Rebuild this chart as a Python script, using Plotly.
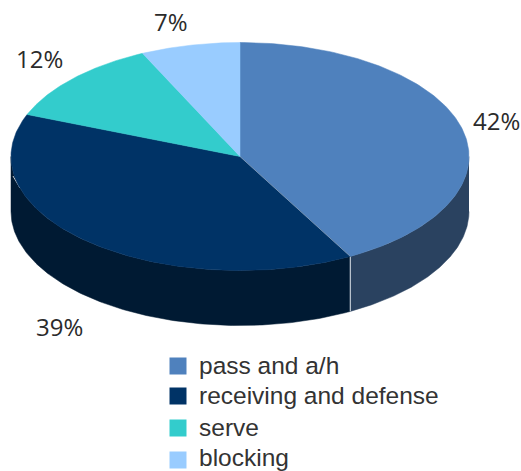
import numpy as np
import plotly.graph_objects as go

categories = ["pass and a/h", "receiving and defense", "serve", "blocking"]
shares = [42, 39, 12, 7]
top_colors = ["#4F81BD", "#003366", "#33CCCC", "#99CCFF"]
side_colors = ["#2A4260", "#001A33", "#1F7A7A", "#5C7A99"]

W, H = 521, 471
CX, CY, RX = 240.0, 156.5, 229.0
TILT = 114.0 / RX
DEPTH = 55.0 / RX

edges = np.cumsum([0] + shares) / sum(shares) * 2 * np.pi


def arc(a0, a1, n=160):
    t = np.linspace(a0, a1, n)
    return np.sin(t), np.cos(t) * TILT


def to_x(px):
    return (px - CX) / RX


def to_y(py):
    return (CY - py) / RX


fig = go.Figure()

# side walls (only the front half of the disc is visible)
for i in range(len(shares)):
    a0, a1 = max(edges[i], np.pi / 2), min(edges[i + 1], 3 * np.pi / 2)
    if a1 <= a0:
        continue
    x, y = arc(a0, a1)
    fig.add_trace(go.Scatter(
        x=np.r_[x, x[::-1]], y=np.r_[y, y[::-1] - DEPTH],
        mode="lines", fill="toself", fillcolor=side_colors[i],
        line=dict(color=side_colors[i], width=0.5),
        hoverinfo="skip", showlegend=False))

# thin light seam where the first two walls meet
sx, sy = np.sin(edges[1]), np.cos(edges[1]) * TILT
fig.add_trace(go.Scatter(x=[sx, sx], y=[sy, sy - DEPTH], mode="lines",
                         line=dict(color="#C4CCD6", width=1.2),
                         hoverinfo="skip", showlegend=False))

# small light nick on the left of the wall
fig.add_trace(go.Scatter(x=[to_x(13), to_x(20)], y=[to_y(176), to_y(188)], mode="lines",
                         line=dict(color="#C4CCD6", width=1),
                         hoverinfo="skip", showlegend=False))

# top faces
for i in range(len(shares)):
    x, y = arc(edges[i], edges[i + 1])
    fig.add_trace(go.Scatter(
        x=np.r_[0, x, 0], y=np.r_[0, y, 0],
        mode="lines", fill="toself", fillcolor=top_colors[i],
        line=dict(color=top_colors[i], width=0.5),
        hoverinfo="skip", showlegend=False))

# seam between first slice and second on the top face
fig.add_trace(go.Scatter(x=[0, sx], y=[0, sy], mode="lines",
                         line=dict(color="rgba(190,205,225,0.55)", width=1),
                         hoverinfo="skip", showlegend=False))

# legend, placed by hand so the row pitch and text width follow the reference
marker_rows = [366, 396, 428, 460]
text_rows = [365, 395, 427, 457.5]
for name, color, mrow, trow in zip(categories, top_colors, marker_rows, text_rows):
    fig.add_trace(go.Scatter(x=[to_x(178)], y=[to_y(mrow)], mode="markers", name=name,
                             marker=dict(symbol="square", size=17, color=color, line=dict(width=0)),
                             hoverinfo="name", showlegend=False))
    fig.add_annotation(text=name, x=196.5 / W, y=1 - trow / H, xref="paper", yref="paper",
                       showarrow=False, xanchor="left", yanchor="middle",
                       font=dict(family="Liberation Sans", size=24.5, color="#333333"))

label_px = [(496, 121), (59.5, 326), (39.5, 59), (170.5, 22)]
for s, (px, py) in zip(shares, label_px):
    fig.add_annotation(text=f"{s}%", x=px / W, y=1 - py / H, xref="paper", yref="paper",
                       showarrow=False, xanchor="center", yanchor="middle",
                       font=dict(family="Open Sans", size=24, color="#2B2B2B"))

fig.update_layout(
    width=W, height=H, margin=dict(l=0, r=0, t=0, b=0),
    paper_bgcolor="white", plot_bgcolor="white", showlegend=False,
    xaxis=dict(visible=False, fixedrange=True, range=[-CX / RX, (W - CX) / RX]),
    yaxis=dict(visible=False, fixedrange=True, range=[-(H - CY) / RX, CY / RX]),
)
fig.write_html("out.html", config=dict(displayModeBar=False),
               post_script="document.body.style.margin='0';document.body.style.overflow='hidden';")
